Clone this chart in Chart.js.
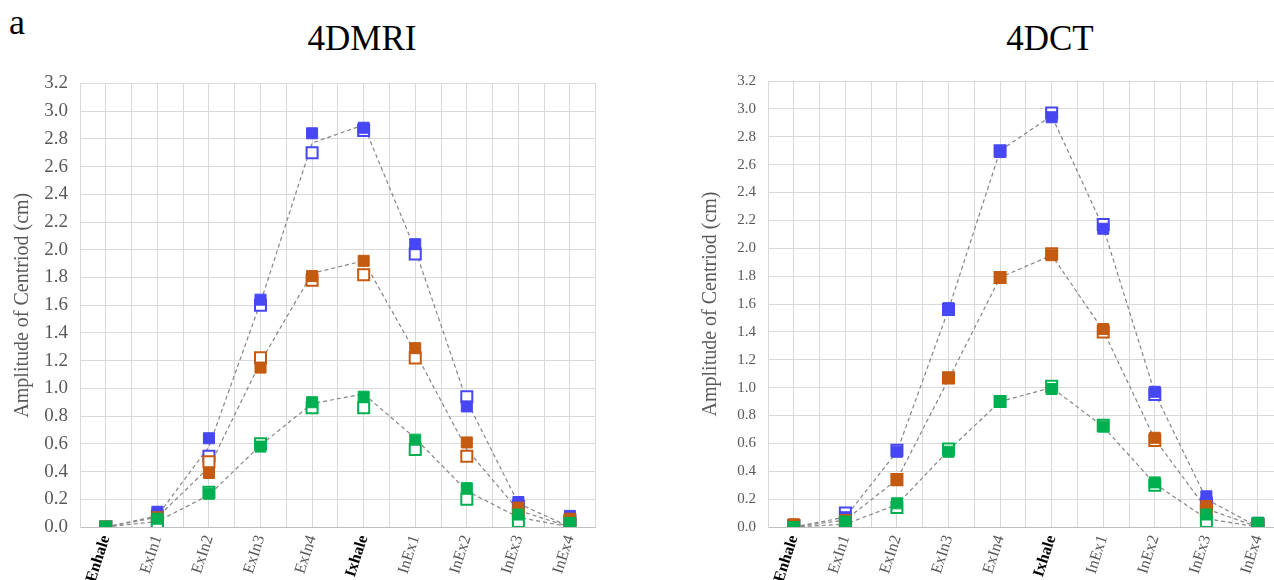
<!DOCTYPE html>
<html>
<head>
<meta charset="utf-8">
<script src="https://cdn.jsdelivr.net/npm/chart.js@4.4.0/dist/chart.umd.min.js"></script>
<style>
    html, body { margin: 0; padding: 0; background: #fff; }
    body { width: 1274px; height: 580px; overflow: hidden; position: relative; font-family: "Liberation Serif", "Times New Roman", serif; }
    .panel-label { position: absolute; left: 9px; top: 4px; font-size: 36px; line-height: 1; color: #000; }
    .title { position: absolute; top: 21px; font-size: 35px; line-height: 1; color: #000; transform: translateX(-50%); white-space: nowrap; }
    .chart-box { position: absolute; top: 60px; width: 620px; height: 527px; }
</style>
</head>
<body>
<div class="panel-label">a</div>
<div class="title" style="left:362px">4DMRI</div>
<div class="title" style="left:1050px">4DCT</div>
<div class="chart-box" style="left:0px"><canvas id="mriChart"></canvas></div>
<div class="chart-box" style="left:688px"><canvas id="ctChart"></canvas></div>

<script>
// respiratory phases (x axis)
const phases = ['Enhale', 'ExIn1', 'ExIn2', 'ExIn3', 'ExIn4', 'Ixhale', 'InEx1', 'InEx2', 'InEx3', 'InEx4'];
const boldPhases = ['Enhale', 'Ixhale'];

// 4DMRI - filled markers
const mriBlueFilled   = [0.00, 0.11, 0.64, 1.64, 2.84, 2.88, 2.04, 0.87, 0.18, 0.08];
const mriOrangeFilled = [0.00, 0.07, 0.39, 1.15, 1.81, 1.92, 1.29, 0.61, 0.14, 0.06];
const mriGreenFilled  = [0.00, 0.06, 0.24, 0.58, 0.90, 0.94, 0.63, 0.28, 0.09, 0.03];
// 4DMRI - open markers
const mriBlueOpen     = [0.00, 0.04, 0.51, 1.60, 2.70, 2.86, 1.97, 0.94, 0.15, 0.05];
const mriOrangeOpen   = [0.00, 0.08, 0.47, 1.22, 1.78, 1.82, 1.22, 0.51, 0.10, 0.03];
const mriGreenOpen    = [0.00, 0.03, 0.25, 0.60, 0.86, 0.86, 0.56, 0.20, 0.04, 0.02];
// 4DMRI - dashed lines
const mriBlueLine     = [0.00, 0.08, 0.58, 1.62, 2.77, 2.90, 2.00, 0.91, 0.17, 0.00];
const mriOrangeLine   = [0.00, 0.07, 0.43, 1.19, 1.83, 1.92, 1.26, 0.56, 0.12, 0.00];
const mriGreenLine    = [0.00, 0.04, 0.23, 0.59, 0.89, 0.96, 0.64, 0.26, 0.07, 0.00];

// 4DCT - filled markers
const ctBlueFilled    = [0.01, 0.07, 0.54, 1.57, 2.69, 2.94, 2.14, 0.97, 0.22, 0.03];
const ctOrangeFilled  = [0.02, 0.05, 0.34, 1.07, 1.79, 1.95, 1.42, 0.64, 0.15, 0.02];
const ctGreenFilled   = [0.00, 0.04, 0.17, 0.54, 0.90, 0.99, 0.72, 0.32, 0.09, 0.03];
// 4DCT - open markers
const ctBlueOpen      = [0.01, 0.10, 0.55, 1.56, 2.70, 2.97, 2.17, 0.95, 0.17, 0.02];
const ctOrangeOpen    = [0.01, 0.04, 0.34, 1.07, 1.79, 1.96, 1.40, 0.62, 0.12, 0.02];
const ctGreenOpen     = [0.00, 0.01, 0.14, 0.56, 0.90, 1.01, 0.73, 0.30, 0.04, 0.02];
// 4DCT - dashed lines
const ctBlueLine      = [0.00, 0.07, 0.54, 1.56, 2.70, 2.95, 2.15, 0.96, 0.20, 0.00];
const ctOrangeLine    = [0.00, 0.05, 0.34, 1.06, 1.79, 1.95, 1.41, 0.63, 0.13, 0.00];
const ctGreenLine     = [0.00, 0.02, 0.16, 0.55, 0.90, 1.00, 0.72, 0.31, 0.06, 0.00];

const yMin = 0;
const yMax = 3.2;
const yTitle = 'Amplitude of Centriod (cm)';

const BLUE = '#4646f2';
const ORANGE = '#c55a11';
const GREEN = '#00b050';
const LINE_GREY = '#858585';
const FONT = '"Liberation Serif", "Times New Roman", serif';

function toPoints(values) {
    return values.map((v, i) => ({ x: i, y: v }));
}

function isBold(c) {
    return !!(c && c.tick && boldPhases.includes(phases[c.tick.value]));
}

function isMajor(c) {
    return !c || !c.tick || Math.round(c.tick.value * 10) % 2 === 0;
}

function markerSet(values, color, filled, order) {
    return {
        data: toPoints(values),
        showLine: false,
        pointStyle: 'rect',
        pointRadius: 7.8,
        pointHoverRadius: 7.8,
        backgroundColor: filled ? color : '#ffffff',
        borderColor: color,
        pointBorderWidth: filled ? 1 : 2,
        order: order
    };
}

function lineSet(values, order) {
    return {
        data: toPoints(values),
        showLine: true,
        pointRadius: 0,
        borderColor: LINE_GREY,
        borderWidth: 1.2,
        borderDash: [4, 3],
        fill: false,
        tension: 0,
        order: order
    };
}

function buildChart(canvasId, s, tickSize) {
    const ctx = document.getElementById(canvasId).getContext('2d');
    return new Chart(ctx, {
        type: 'scatter',
        data: {
            datasets: [
                markerSet(s.greenFilled, GREEN, true, 0),
                markerSet(s.orangeFilled, ORANGE, true, 1),
                markerSet(s.blueFilled, BLUE, true, 2),
                markerSet(s.greenOpen, GREEN, false, 3),
                markerSet(s.orangeOpen, ORANGE, false, 4),
                markerSet(s.blueOpen, BLUE, false, 5),
                lineSet(s.blueLine, 6),
                lineSet(s.orangeLine, 6),
                lineSet(s.greenLine, 6)
            ]
        },
        options: {
            responsive: true,
            maintainAspectRatio: false,
            animation: false,
            events: [],
            layout: { padding: { top: 20, right: 5, left: 0, bottom: 0 } },
            plugins: { legend: { display: false }, tooltip: { enabled: false } },
            scales: {
                x: {
                    type: 'linear',
                    min: -0.5,
                    max: 9.5,
                    afterFit: scale => { scale.height = 60; },
                    grid: { color: '#d9d9d9', lineWidth: 1, drawTicks: false },
                    border: { color: '#bfbfbf', width: 1 },
                    ticks: {
                        stepSize: 0.5,
                        autoSkip: false,
                        minRotation: 72,
                        maxRotation: 72,
                        padding: 6,
                        callback: v => Number.isInteger(v) ? phases[v] : '',
                        color: c => isBold(c) ? '#000' : '#595959',
                        font: c => ({
                            family: FONT,
                            size: 16,
                            weight: isBold(c) ? 'bold' : 'normal'
                        })
                    }
                },
                y: {
                    min: yMin,
                    max: yMax,
                    afterFit: scale => { scale.width = 80; },
                    grid: {
                        color: c => isMajor(c) ? '#d9d9d9' : '#ededed',
                        lineWidth: 1,
                        drawTicks: false
                    },
                    border: { color: '#d9d9d9', width: 1 },
                    title: {
                        display: true,
                        text: yTitle,
                        color: '#595959',
                        font: { family: FONT, size: 20 },
                        padding: { top: 11, bottom: 0 }
                    },
                    ticks: {
                        stepSize: 0.1,
                        padding: 12,
                        color: '#595959',
                        font: { family: FONT, size: tickSize },
                        callback: v => Math.round(v * 10) % 2 === 0 ? v.toFixed(1) : ''
                    }
                }
            }
        }
    });
}

buildChart('mriChart', {
    blueFilled: mriBlueFilled, orangeFilled: mriOrangeFilled, greenFilled: mriGreenFilled,
    blueOpen: mriBlueOpen, orangeOpen: mriOrangeOpen, greenOpen: mriGreenOpen,
    blueLine: mriBlueLine, orangeLine: mriOrangeLine, greenLine: mriGreenLine
}, 19);

buildChart('ctChart', {
    blueFilled: ctBlueFilled, orangeFilled: ctOrangeFilled, greenFilled: ctGreenFilled,
    blueOpen: ctBlueOpen, orangeOpen: ctOrangeOpen, greenOpen: ctGreenOpen,
    blueLine: ctBlueLine, orangeLine: ctOrangeLine, greenLine: ctGreenLine
}, 15);
</script>
</body>
</html>
